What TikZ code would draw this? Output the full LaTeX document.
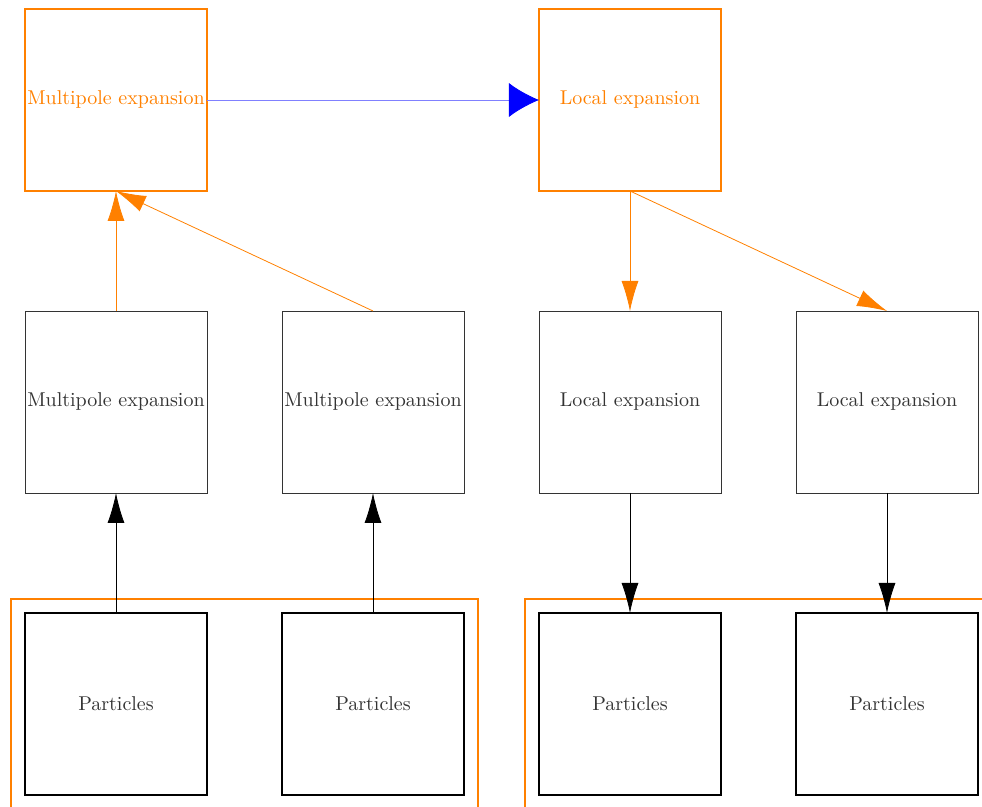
\documentclass[tikz,border=0pt]{standalone}
\usepackage{tikz}
\usetikzlibrary{
  arrows.meta,
  matrix,
  positioning,
  fit
}

\begin{document}
\begin{tikzpicture}[
      expansion/.style={
         rectangle,
         minimum size=91pt,
         inner sep=1pt,
         thin,
         draw=black!80,
         text=black!80
      },
      top expansion/.style={
         expansion,
         line width=1pt,
         draw=orange,
         text=orange
      },
      particles/.style={
         expansion,
         line width=1pt,
         draw=black
      },
      group/.style={
         rectangle,
         line width=1pt,
         draw=orange,
         inner sep=7pt
      },
      otip/.style={-{Latex[length=15pt,width=8.5pt]},thin,draw=orange},
      ktip/.style={-{Latex[length=15pt,width=8.5pt]},thin,draw=black},
      btip/.style={-{Latex[length=15pt,width=17pt,color=blue]},thin,draw=blue!50},
    ]
    \matrix[inner sep=0pt, outer sep=0pt, column sep=36.5pt, row sep=59.3pt] {
\node (n11) [top expansion] {Multipole expansion}; &  & \node (n13) [top expansion] {Local expansion}; & \\
\node (n21) [expansion] {Multipole expansion}; & \node (n22) [expansion] {Multipole expansion}; & \node (n23) [expansion] {Local expansion}; & \node (n24) [expansion] {Local expansion};\\
\node (n31) [particles] {Particles}; & \node (n32) [particles] {Particles}; & \node (n33) [particles] {Particles}; & \node (n34) [particles] {Particles};\\
    };
  % page edges, the groups run off it
  \path[use as bounding box, clip] ([shift={(-12.5pt,4.5pt)}]n11.north west)
     rectangle ([shift={(2pt,-6pt)}]n34.south east);
  \node (g1) [group, fit=(n31)(n32)] {};
  \node (g2) [group, fit=(n33)(n34)] {};
  % translation
  \draw[btip] (n11) -- (n13);
  % upward pass
  \draw[otip] (n21) -- (n11);
  \draw[otip] (n22.north) -- (n11.south);
  \draw[ktip] (n31) -- (n21);
  \draw[ktip] (n32) -- (n22);
  % downward pass
  \draw[otip] (n13) -- (n23);
  \draw[otip] (n13.south) -- (n24.north);
  \draw[ktip] (n23) -- (n33);
  \draw[ktip] (n24) -- (n34);
\end{tikzpicture}
\end{document}
